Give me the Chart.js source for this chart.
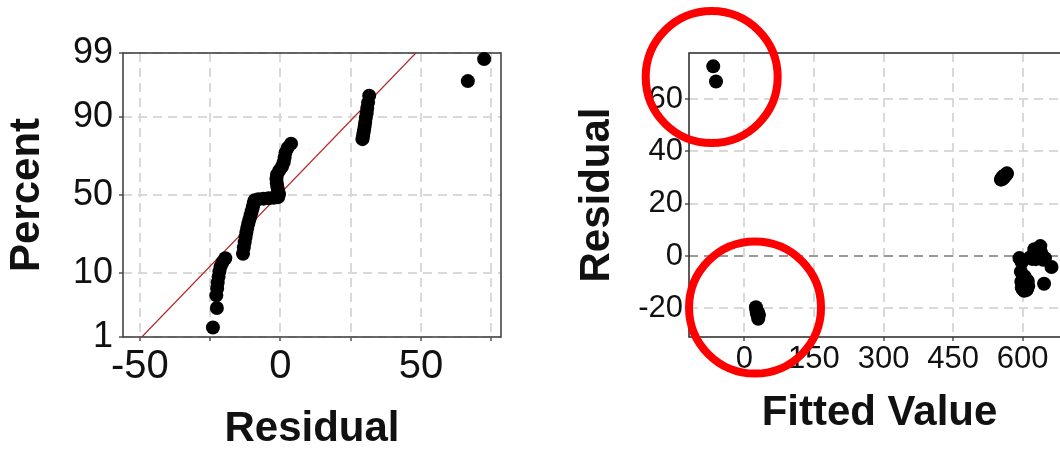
<!DOCTYPE html>
<html>
<head>
<meta charset="utf-8">
<script src="https://cdn.jsdelivr.net/npm/chart.js@4.4.1/dist/chart.umd.min.js"></script>
<style>
  html, body { margin: 0; padding: 0; background: #fff; overflow: hidden; width: 1060px; height: 450px; }
  canvas { position: absolute; top: 0; }
  #probPlot { left: 0; }
  #fitPlot { left: 560px; }
</style>
</head>
<body>
<canvas id="probPlot" width="520" height="450"></canvas>
<canvas id="fitPlot" width="520" height="450"></canvas>
<script>
// residuals, their plotting percentiles and the fitted values, one entry per observation
const residuals = [
  -24.0, -22.6, -22.8, -22.5, -22.3, -22.0, -21.7, -21.3, -20.6, -19.6,
  -13.3, -13.0, -12.7, -12.4, -12.1, -11.8, -11.4, -11.0, -10.6, -10.2, -9.8, -9.5, -9.2,
  -7.8, -6.0, -4.2, -2.4, -0.8,
  -0.5, -0.8, -1.1, -1.3, -1.4, -1.2, -0.4, 0.6, 1.2, 1.5, 1.8, 2.6, 3.8,
  29.2, 29.4, 29.6, 29.8, 30.0, 30.2, 30.4, 30.7, 30.9, 31.2, 31.6,
  66.7, 72.5
];
const percents = [
  1.5, 3.2, 5.0, 6.3, 7.6, 9.0, 10.5, 12.0, 13.5, 15.0,
  16.8, 19.5, 22.0, 24.5, 27.0, 29.5, 32.0, 34.5, 37.0, 39.5, 42.0, 44.5, 46.5,
  47.3, 47.6, 47.9, 48.2, 48.6,
  50.5, 53.0, 55.5, 58.0, 60.5, 63.0, 65.5, 68.0, 70.5, 73.0, 75.5, 78.0, 80.0,
  82.0, 83.3, 84.6, 85.8, 87.1, 88.4, 89.7, 91.0, 92.3, 93.5, 94.8,
  96.9, 98.7
];
const fitted = [
  30, 31, 29, 31, 28, 30, 27, 29, 26, 25,
  603, 608, 600, 610, 598, 605, 612, 601, 646, 607, 597, 611, 603,
  604, 596, 662, 598, 593,
  616, 648, 620, 595, 644, 628, 633, 624, 640, 630, 636, 625, 638,
  553, 556, 554, 558, 556, 560, 558, 562, 561, 565, 566,
  -61, -67
];

// reference line of the normal plot
const fitLineResidual = [-49.3, 48.2];
const fitLinePercent = [1, 99];

const percentTicks = [1, 10, 50, 90, 99];
const residualTicks = [-50, -25, 0, 25, 50, 75];
const fittedTicks = [0, 150, 300, 450, 600];
const residualAxisTicks = [-20, 0, 20, 40, 60];

// highlighted groups on the residual vs fitted panel
const circleFitted = [-70.3, 23.1];
const circleResidual = [68.4, -19.7];

const FONT = "'Liberation Sans', Arial, sans-serif";

// inverse of the standard normal CDF (Acklam)
function probit(p) {
  const a = [-39.69683028665376, 220.9460984245205, -275.9285104469687, 138.357751867269, -30.66479806614716, 2.506628277459239];
  const b = [-54.47609879822406, 161.5858368580409, -155.6989798598866, 66.80131188771972, -13.28068155288572];
  const c = [-0.007784894002430293, -0.3223964580411365, -2.400758277161838, -2.549732539343734, 4.374664141464968, 2.938163982698783];
  const d = [0.007784695709041462, 0.3224671290700398, 2.445134137142996, 3.754408661907416];
  const lo = 0.02425, hi = 1 - lo;
  let q, r;
  if (p < lo) {
    q = Math.sqrt(-2 * Math.log(p));
    return (((((c[0] * q + c[1]) * q + c[2]) * q + c[3]) * q + c[4]) * q + c[5]) /
      ((((d[0] * q + d[1]) * q + d[2]) * q + d[3]) * q + 1);
  }
  if (p > hi) {
    q = Math.sqrt(-2 * Math.log(1 - p));
    return -(((((c[0] * q + c[1]) * q + c[2]) * q + c[3]) * q + c[4]) * q + c[5]) /
      ((((d[0] * q + d[1]) * q + d[2]) * q + d[3]) * q + 1);
  }
  q = p - 0.5;
  r = q * q;
  return (((((a[0] * r + a[1]) * r + a[2]) * r + a[3]) * r + a[4]) * r + a[5]) * q /
    (((((b[0] * r + b[1]) * r + b[2]) * r + b[3]) * r + b[4]) * r + 1);
}

// closed box around the plotting area
const frame = {
  id: "frame",
  beforeDatasetsDraw(chart, args, opts) {
    const { ctx, chartArea: a } = chart;
    ctx.save();
    ctx.strokeStyle = opts.color;
    ctx.lineWidth = opts.width;
    ctx.strokeRect(a.left, a.top, a.right - a.left, a.bottom - a.top);
    ctx.restore();
  }
};

function gridOpts(zeroColor) {
  return {
    color: (c) => (zeroColor && c.tick && c.tick.value === 0 ? zeroColor : "#d9d9d9"),
    lineWidth: 2,
    tickLength: 4,
    tickColor: "#555",
    tickWidth: 1.5
  };
}

Chart.defaults.font.family = FONT;
Chart.defaults.color = "#111";

const zMin = probit(percentTicks[0] / 100);
const zMax = probit(percentTicks[percentTicks.length - 1] / 100);

new Chart(document.getElementById("probPlot"), {
  type: "scatter",
  data: {
    datasets: [
      {
        data: residuals.map((r, i) => ({ x: r, y: probit(percents[i] / 100) })),
        pointRadius: 7,
        pointHoverRadius: 7,
        backgroundColor: "#000",
        borderWidth: 0,
        clip: false
      },
      {
        data: fitLineResidual.map((r, i) => ({ x: r, y: probit(fitLinePercent[i] / 100) })),
        showLine: true,
        pointRadius: 0,
        borderColor: "#b32626",
        borderWidth: 1.2
      }
    ]
  },
  options: {
    responsive: false,
    animation: false,
    devicePixelRatio: 1,
    layout: { autoPadding: false, padding: { top: 53, right: 19, left: 0, bottom: 0 } },
    plugins: {
      legend: { display: false },
      tooltip: { enabled: false },
      frame: { color: "#444", width: 1.6 }
    },
    scales: {
      x: {
        type: "linear",
        min: -56,
        max: 78.5,
        afterBuildTicks: (s) => { s.ticks = residualTicks.map((v) => ({ value: v })); },
        afterFit: (s) => { s.height = 113; },
        grid: gridOpts(null),
        border: { display: false, dash: [9, 6] },
        ticks: {
          autoSkip: false,
          maxRotation: 0,
          padding: 2,
          font: { size: 40 },
          callback: (v) => (v % 50 === 0 ? String(v) : "")
        },
        title: {
          display: true,
          text: "Residual",
          font: { size: 42, weight: "bold", lineHeight: 1 },
          padding: { top: 0, bottom: 0 }
        }
      },
      y: {
        type: "linear",
        min: zMin,
        max: zMax,
        afterBuildTicks: (s) => { s.ticks = percentTicks.map((p) => ({ value: probit(p / 100) })); },
        afterFit: (s) => { s.width = 123; },
        grid: gridOpts(null),
        border: { display: false, dash: [9, 6] },
        ticks: {
          autoSkip: false,
          padding: 6,
          font: { size: 36 },
          callback: (v, i) => String(percentTicks[i])
        },
        title: {
          display: true,
          text: "Percent",
          font: { size: 42, weight: "bold", lineHeight: 1 },
          padding: { top: 6, bottom: 0 }
        }
      }
    }
  },
  plugins: [frame]
});

new Chart(document.getElementById("fitPlot"), {
  type: "scatter",
  data: {
    datasets: [
      {
        data: circleFitted.map((f, i) => ({ x: f, y: circleResidual[i] })),
        pointRadius: 66,
        pointHoverRadius: 66,
        backgroundColor: "rgba(0,0,0,0)",
        borderColor: "#f00",
        borderWidth: 8,
        clip: false
      },
      {
        data: fitted.map((f, i) => ({ x: f, y: residuals[i] })),
        pointRadius: 7,
        pointHoverRadius: 7,
        backgroundColor: "#000",
        borderWidth: 0,
        clip: false
      }
    ]
  },
  options: {
    responsive: false,
    animation: false,
    devicePixelRatio: 1,
    layout: { autoPadding: false, padding: { top: 53, right: 10, left: 0, bottom: 0 } },
    plugins: {
      legend: { display: false },
      tooltip: { enabled: false },
      frame: { color: "#333", width: 1.6 }
    },
    scales: {
      x: {
        type: "linear",
        min: -119.2,
        max: 701.9,
        afterBuildTicks: (s) => { s.ticks = fittedTicks.map((v) => ({ value: v })); },
        afterFit: (s) => { s.height = 113; },
        grid: gridOpts(null),
        border: { display: false, dash: [9, 6] },
        ticks: {
          autoSkip: false,
          maxRotation: 0,
          padding: 0,
          font: { size: 31 }
        },
        title: {
          display: true,
          text: "Fitted Value",
          font: { size: 42, weight: "bold", lineHeight: 1 },
          padding: { top: 0, bottom: 16 }
        }
      },
      y: {
        type: "linear",
        min: -30.95,
        max: 77.6,
        afterBuildTicks: (s) => { s.ticks = residualAxisTicks.map((v) => ({ value: v })); },
        afterFit: (s) => { s.width = 129; },
        grid: gridOpts("#9a9a9a"),
        border: { display: false, dash: [9, 6] },
        ticks: {
          autoSkip: false,
          padding: 2,
          font: { size: 31 }
        },
        title: {
          display: true,
          text: "Residual",
          font: { size: 42, weight: "bold", lineHeight: 1 },
          padding: { top: 16, bottom: 0 }
        }
      }
    }
  },
  plugins: [frame]
});
</script>
</body>
</html>
